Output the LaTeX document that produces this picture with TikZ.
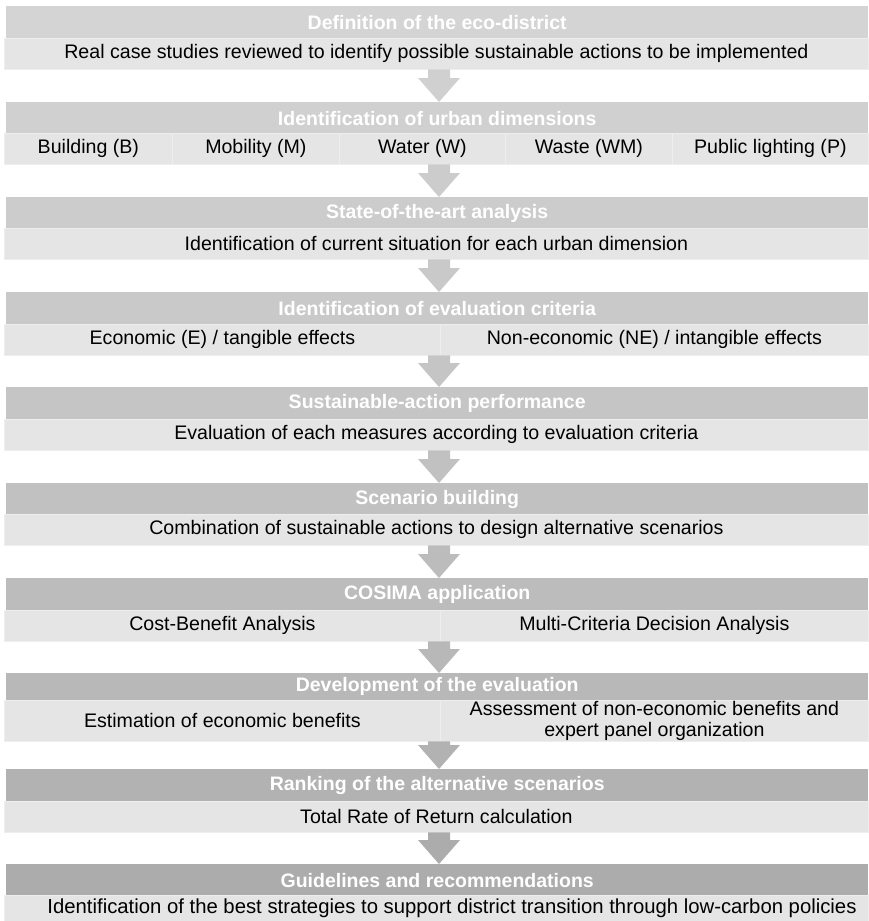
\documentclass[tikz,border=0pt]{standalone}
\usepackage{fontspec}
\setmainfont{Liberation Sans}
\usetikzlibrary{calc}
\definecolor{hA}{HTML}{D4D4D4}
\definecolor{hB}{HTML}{D0D0D0}
\definecolor{hC}{HTML}{CCCCCC}
\definecolor{hD}{HTML}{C9C9C9}
\definecolor{hE}{HTML}{C5C5C5}
\definecolor{hF}{HTML}{C1C1C1}
\definecolor{hG}{HTML}{BCBCBC}
\definecolor{hH}{HTML}{B8B8B8}
\definecolor{hI}{HTML}{B2B2B2}
\definecolor{hJ}{HTML}{ACACAC}
\definecolor{subc}{HTML}{E5E5E5}
\definecolor{subline}{HTML}{EEEEEE}
\newcommand\flowarrow[3]{%
  \path (#2.south -| ax) coordinate (#2-a) (#3.north -| ax) coordinate (#3-t);
  \fill[#1] ($(#2-a)+(-11,0.5)$) -- ($(#2-a)+(11,0.5)$) -- ($(#3-t)+(11,24)$) -- ($(#3-t)+(21,24)$)
    -- (#3-t) -- ($(#3-t)+(-21,24)$) -- ($(#3-t)+(-11,24)$) -- cycle;}
\begin{document}
\begin{tikzpicture}[x=1pt,y=1pt,
  hdr/.style={anchor=north west, minimum width=862pt, minimum height=32pt, inner sep=0pt,
    text=white, font=\bfseries\fontsize{19.5}{22}\selectfont},
  sub/.style={anchor=north west, minimum height=31pt, inner sep=0pt, fill=subc,
    draw=subline, line width=0.8pt, font=\fontsize{19.6}{20.5}\selectfont},
]
\useasboundingbox (0,0) rectangle (868,-921);
\coordinate (ax) at (439,0);

% 1
\node[hdr, fill=hA] (h1) at (6,-6) {Definition of the eco-district};
\node[sub, minimum width=864pt] (s1) at (4,-38) {Real case studies reviewed to identify possible sustainable actions to be implemented};
% 2
\node[hdr, fill=hB] (h2) at (6,-102) {Identification of urban dimensions};
\node[sub, minimum width=168pt] (s2a) at (4,-133) {Building (B)};
\node[sub, minimum width=167pt] (s2b) at (172,-133) {Mobility (M)};
\node[sub, minimum width=166pt] (s2c) at (339,-133) {Water (W)};
\node[sub, minimum width=167pt] (s2d) at (505,-133) {Waste (WM)};
\node[sub, minimum width=196pt] (s2e) at (672,-133) {Public lighting (P)};
% 3
\node[hdr, fill=hC] (h3) at (6,-197) {State-of-the-art analysis};
\node[sub, minimum width=864pt] (s3) at (4,-228) {Identification of current situation for each urban dimension};
% 4
\node[hdr, fill=hD] (h4) at (6,-292) {Identification of evaluation criteria};
\node[sub, minimum width=436pt] (s4a) at (4,-324) {Economic (E) / tangible effects};
\node[sub, minimum width=428pt] (s4b) at (440,-324) {Non-economic (NE) / intangible effects};
% 5
\node[hdr, fill=hE] (h5) at (6,-387) {Sustainable-action performance};
\node[sub, minimum width=864pt] (s5) at (4,-419) {Evaluation of each measures according to evaluation criteria};
% 6
\node[hdr, fill=hF] (h6) at (6,-483) {Scenario building};
\node[sub, minimum width=864pt] (s6) at (4,-514) {Combination of sustainable actions to design alternative scenarios};
% 7
\node[hdr, fill=hG] (h7) at (6,-578) {COSIMA application};
\node[sub, minimum width=436pt] (s7a) at (4,-610) {Cost-Benefit Analysis};
\node[sub, minimum width=428pt] (s7b) at (440,-610) {Multi-Criteria Decision Analysis};
% 8
\node[hdr, fill=hH, minimum height=27pt] (h8) at (6,-673) {Development of the evaluation};
\node[sub, minimum width=436pt, minimum height=41pt] (s8a) at (4,-700) {Estimation of economic benefits};
\node[sub, minimum width=428pt, minimum height=41pt, align=center] (s8b) at (440,-700) {Assessment of non-economic benefits and\\expert panel organization};
% 9
\node[hdr, fill=hI] (h9) at (6,-769) {Ranking of the alternative scenarios};
\node[sub, minimum width=864pt] (s9) at (4,-801) {Total Rate of Return calculation};
% 10
\node[hdr, fill=hJ] (h10) at (6,-864) {Guidelines and recommendations};
\node[sub, minimum width=864pt] (s10) at (4,-895) {};
\node[font=\fontsize{20.3}{21}\selectfont, inner sep=0pt] (t10) at (452,-908.5) {Identification of the best strategies to support district transition through low-carbon policies};

% arrows
\flowarrow{hB}{s1}{h2}
\flowarrow{hC}{s2c}{h3}
\flowarrow{hD}{s3}{h4}
\flowarrow{hE}{s4a}{h5}
\flowarrow{hF}{s5}{h6}
\flowarrow{hG}{s6}{h7}
\flowarrow{hH}{s7a}{h8}
\flowarrow{hI}{s8a}{h9}
\flowarrow{hJ}{s9}{h10}
\end{tikzpicture}
\end{document}
